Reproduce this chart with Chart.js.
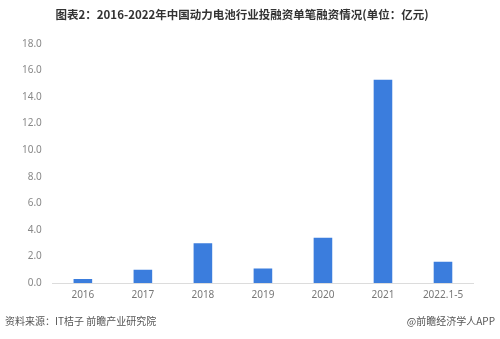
<!DOCTYPE html>
<html>
<head>
<meta charset="utf-8">
<script src="https://cdn.jsdelivr.net/npm/chart.js@4"></script>
<style>
  html, body { margin: 0; padding: 0; background: #fff; }
  #wrap { position: relative; width: 500px; height: 339px; }
  .note { position: absolute; font-family: "Noto Sans CJK SC", sans-serif; font-size: 10px; color: #555; }
</style>
</head>
<body>
<div id="wrap">
  <canvas id="c" width="500" height="339"></canvas>
  <div class="note" style="left:5px; top:313px;">资料来源：IT桔子 前瞻产业研究院</div>
  <div class="note" style="right:5px; top:313px;">@前瞻经济学人APP</div>
</div>
<script>
// 年份与单笔融资金额（亿元）
const years = ['2016', '2017', '2018', '2019', '2020', '2021', '2022.1-5'];
const amounts = [0.3, 1.0, 3.0, 1.1, 3.4, 15.3, 1.6];
const titleText = '图表2：2016-2022年中国动力电池行业投融资单笔融资情况(单位：亿元)';

const tickFont = { family: '"Noto Sans", "Noto Sans CJK SC", sans-serif', size: 10 };

new Chart(document.getElementById('c'), {
  type: 'bar',
  data: {
    labels: years,
    datasets: [{
      data: amounts,
      backgroundColor: '#3b7ddd',
      barPercentage: 0.31,
      categoryPercentage: 1,
    }],
  },
  options: {
    responsive: false,
    animation: false,
    layout: { padding: { left: 11, right: 27, top: 8, bottom: 32 } },
    plugins: {
      legend: { display: false },
      tooltip: { enabled: false },
      title: {
        display: true,
        text: titleText,
        color: '#333',
        font: { family: '"Noto Sans CJK SC", sans-serif', size: 11.5, weight: 'bold' },
        padding: { top: 0, bottom: 22 },
      },
    },
    scales: {
      x: {
        grid: { display: false, drawTicks: false },
        border: { display: true, color: '#dcdcdc' },
        ticks: { font: tickFont, color: '#777', padding: 6 },
      },
      y: {
        min: 0,
        max: 18,
        grid: { display: false, drawTicks: false },
        border: { display: false },
        ticks: {
          stepSize: 2,
          font: tickFont,
          color: '#888',
          padding: 11,
          callback: v => v.toFixed(1),
        },
      },
    },
  },
});
</script>
</body>
</html>
